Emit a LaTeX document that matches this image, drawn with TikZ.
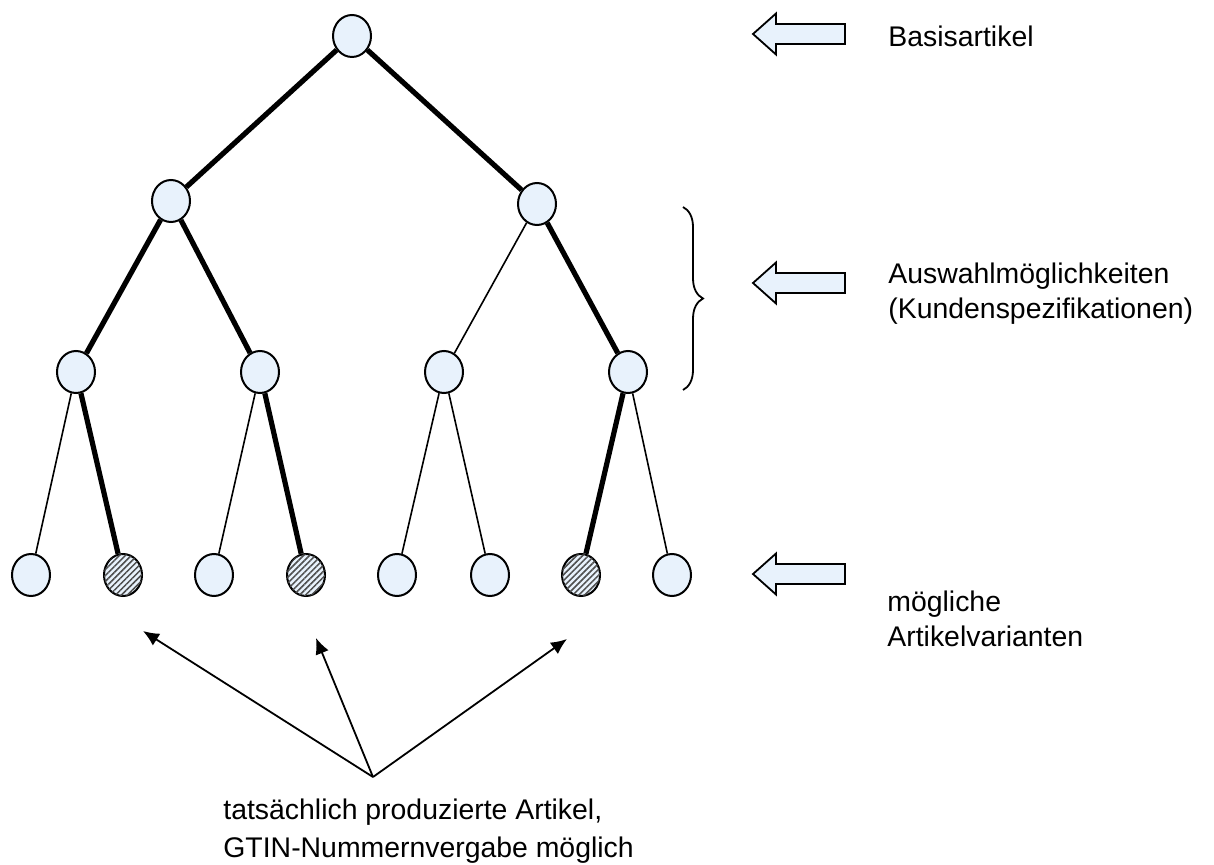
\documentclass[tikz,border=0pt]{standalone}
\usepackage{fontspec}
\setmainfont{Liberation Sans}
\usetikzlibrary{patterns.meta,decorations.pathreplacing,arrows.meta,shapes.geometric}
\definecolor{nodeblue}{HTML}{E8F2FC}
\begin{document}
\begin{tikzpicture}[x=0.5pt,y=-0.5pt,
  vnode/.style={ellipse,draw=black,line width=1pt,fill=nodeblue,minimum width=19pt,minimum height=21pt,inner sep=0pt},
  hnode/.style={vnode,postaction={pattern={Lines[angle=45,distance=2.1pt,line width=0.75pt]},pattern color=black!70}},
  thickedge/.style={line width=2.6pt},
  thinedge/.style={line width=0.8pt},
  blockarrow/.style={draw=black,line width=0.9pt,fill=nodeblue,line join=miter},
  lbl/.style={font=\fontsize{14.2}{17.5}\selectfont,inner sep=0pt,align=left},
  pointer/.style={line width=0.9pt,-{Latex[length=8pt,width=7pt]}}]
\useasboundingbox (0,0) rectangle (1214,865);
% nodes
\node[vnode] (r) at (352,36) {};
\node[vnode] (a) at (171,201) {};
\node[vnode] (b) at (537,204) {};
\node[vnode] (a1) at (76,372) {};
\node[vnode] (a2) at (260,372) {};
\node[vnode] (b1) at (444,372) {};
\node[vnode] (b2) at (628,372) {};
\node[vnode] (l1) at (31,575) {};
\node[hnode] (l2) at (123,575) {};
\node[vnode] (l3) at (214,575) {};
\node[hnode] (l4) at (306,575) {};
\node[vnode] (l5) at (397,575) {};
\node[vnode] (l6) at (490,575) {};
\node[hnode] (l7) at (581,575) {};
\node[vnode] (l8) at (672,575) {};
% edges
\draw[thickedge] (r) -- (a);
\draw[thickedge] (r) -- (b);
\draw[thickedge] (a) -- (a1);
\draw[thickedge] (a) -- (a2);
\draw[thinedge] (b) -- (b1);
\draw[thickedge] (b) -- (b2);
\draw[thinedge] (a1) -- (l1);
\draw[thickedge] (a1) -- (l2);
\draw[thinedge] (a2) -- (l3);
\draw[thickedge] (a2) -- (l4);
\draw[thinedge] (b1) -- (l5);
\draw[thinedge] (b1) -- (l6);
\draw[thickedge] (b2) -- (l7);
\draw[thinedge] (b2) -- (l8);
% block arrows
\foreach \c in {34,283,574}{
  \draw[blockarrow] (753,\c) -- (776,\c-20.5) -- (776,\c-10) -- (845,\c-10) -- (845,\c+10) -- (776,\c+10) -- (776,\c+20.5) -- cycle;
}
% brace
\draw[line width=0.9pt,decorate,decoration={brace,amplitude=10pt}] (683,207) -- (683,390);
% labels (base = baseline of the last line)
\node[lbl,anchor=base west] (t1) at (888,46.7) {Basisartikel};
\node[lbl,anchor=base west] (t2) at (888,318.5) {Auswahlmöglichkeiten\\(Kundenspezifikationen)};
\node[lbl,anchor=base west] (t3) at (887,646.5) {mögliche\\Artikelvarianten};
\node[lbl,anchor=base west,font=\fontsize{14.2}{19}\selectfont] (t4) at (223,857.5) {tatsächlich produzierte Artikel,\\GTIN-Nummernvergabe möglich};
% pointers
\coordinate (src) at (373,777);
\coordinate (p1) at (143,631);
\coordinate (p2) at (316,638);
\coordinate (p3) at (567,639);
\draw[pointer] (src) -- (p1);
\draw[pointer] (src) -- (p2);
\draw[pointer] (src) -- (p3);
\end{tikzpicture}
\end{document}
